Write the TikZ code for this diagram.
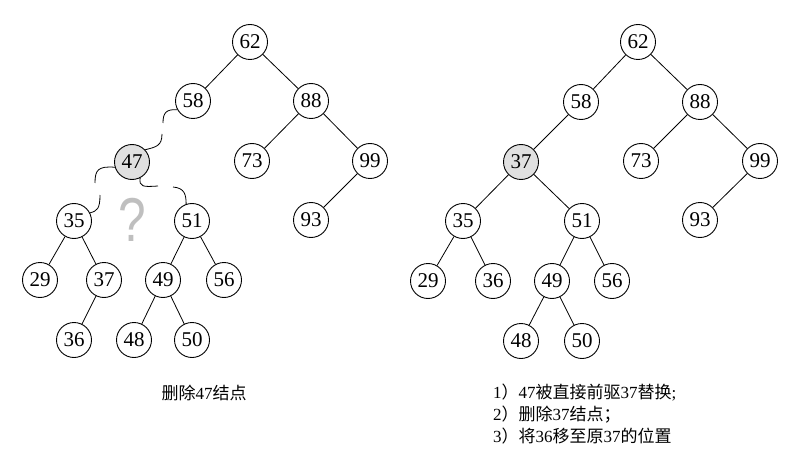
\documentclass[tikz,border=0pt]{standalone}
\usepackage{fontspec}
\setmainfont{Liberation Serif}
\newfontfamily\cjkfont{Noto Sans CJK SC}
\newfontfamily\qfont{Liberation Sans}
\newcommand\cj[1]{{\cjkfont #1}}
\begin{document}
\begin{tikzpicture}[x=1pt,y=-1pt,
  nd/.style={circle,draw,line width=0.9pt,minimum size=35pt,inner sep=0pt,font=\fontsize{21}{21}\selectfont},
  hl/.style={nd,fill=black!12},
  ln/.style={line width=0.8pt},
  captxt/.style={inner sep=0pt,font=\fontsize{17}{20}\selectfont},
  qmark/.style={text=black!25,inner sep=0pt,font=\qfont\fontsize{62}{62}\selectfont,xscale=0.8}
]
\useasboundingbox (0,0) rectangle (789,457);
% ---------- left tree ----------
\node[nd] (L62) at (250,42) {62};
\node[nd] (L58) at (193,101) {58};
\node[nd] (L88) at (311,101) {88};
\node[hl] (L47) at (132,162) {47};
\node[nd] (L73) at (252,161) {73};
\node[nd] (L99) at (370,161) {99};
\node[nd] (L35) at (74,221) {35};
\node[nd] (L51) at (192,221) {51};
\node[nd] (L93) at (311,220) {93};
\node[nd] (L29) at (40,280) {29};
\node[nd] (L37) at (104,280) {37};
\node[nd] (L49) at (163,280) {49};
\node[nd] (L56) at (224,280) {56};
\node[nd] (L36) at (74,340) {36};
\node[nd] (L48) at (134,340) {48};
\node[nd] (L50) at (192,340) {50};
\draw[ln] (L62)--(L58) (L62)--(L88) (L88)--(L73) (L88)--(L99) (L99)--(L93)
  (L35)--(L29) (L35)--(L37) (L37)--(L36) (L51)--(L49) (L51)--(L56)
  (L49)--(L48) (L49)--(L50);
% broken wavy links
\coordinate (a1) at (163,123);
\coordinate (b1) at (162,134);
\coordinate (c1) at (95,183);
\coordinate (d1) at (100,195);
\coordinate (e1) at (158,186);
\coordinate (f1) at (173,187);
\draw[ln] (L58.209) .. controls (166,109) and (163,113) .. (a1);
\draw[ln] (b1) .. controls (162,146) and (156,147) .. (L47.43);
\draw[ln] (L47.197) .. controls (98,166) and (95,170) .. (c1);
\draw[ln] (d1) .. controls (100,209) and (97,211) .. (L35.27);
\draw[ln] (L47.-63) .. controls (139,187) and (143,187) .. (e1);
\draw[ln] (f1) .. controls (185,188) and (186,195) .. (L51.109);
\node[qmark] (q) at (132,220) {?};
\node[captxt] (capL) at (204,393) {\cj{删除}47\cj{结点}};
% ---------- right tree ----------
\node[nd] (R62) at (638,42) {62};
\node[nd] (R58) at (581,102) {58};
\node[nd] (R88) at (700,102) {88};
\node[hl] (R37) at (521,162) {37};
\node[nd] (R73) at (641,161) {73};
\node[nd] (R99) at (760,161) {99};
\node[nd] (R35) at (463,221) {35};
\node[nd] (R51) at (582,221) {51};
\node[nd] (R93) at (700,220) {93};
\node[nd] (R29) at (428,281) {29};
\node[nd] (R36) at (493,281) {36};
\node[nd] (R49) at (552,281) {49};
\node[nd] (R56) at (612,281) {56};
\node[nd] (R48) at (521,341) {48};
\node[nd] (R50) at (582,341) {50};
\draw[ln] (R62)--(R58) (R62)--(R88) (R58)--(R37) (R37)--(R35) (R37)--(R51)
  (R88)--(R73) (R88)--(R99) (R99)--(R93) (R35)--(R29) (R35)--(R36)
  (R51)--(R49) (R51)--(R56) (R49)--(R48) (R49)--(R50);
\node[captxt,anchor=west] (r1) at (493,393) {1\cj{）}47\cj{被直接前驱}37\cj{替换};};
\node[captxt,anchor=west] (r2) at (493,415) {2\cj{）删除}37\cj{结点；}};
\node[captxt,anchor=west] (r3) at (493,436) {3\cj{）将}36\cj{移至原}37\cj{的位置}};
\end{tikzpicture}
\end{document}
